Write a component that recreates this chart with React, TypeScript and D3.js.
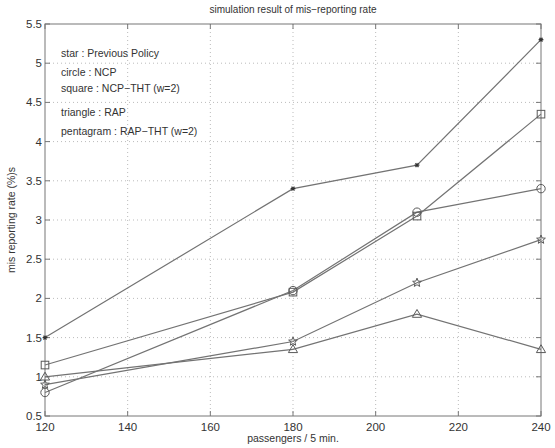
import React from 'react';
import * as d3 from 'd3';

const passengers = [120, 180, 210, 240];
const previousPolicy = [1.5, 3.4, 3.7, 5.3];
const ncp = [0.8, 2.1, 3.1, 3.4];
const ncpTht = [1.15, 2.08, 3.05, 4.35];
const rap = [1.0, 1.35, 1.8, 1.35];
const rapTht = [0.9, 1.45, 2.2, 2.75];

const xTicks = [120, 140, 160, 180, 200, 220, 240];
const yTicks = [0.5, 1, 1.5, 2, 2.5, 3, 3.5, 4, 4.5, 5, 5.5];
const legendLines = [
  'star : Previous Policy',
  'circle : NCP',
  'square : NCP\u2212THT (w=2)',
  'triangle : RAP',
  'pentagram : RAP\u2212THT (w=2)'
];

const W = 555,
  H = 448;
const margin = { top: 24, right: 14, bottom: 32, left: 45 };
const lineColor = '#737373';
const font = 'Liberation Sans, Arial, sans-serif';

function Marker({ kind, x, y }) {
  const s = { fill: 'none', stroke: '#5a5a5a', strokeWidth: 1 };
  if (kind === 'star') {
    const r = 2.4;
    return (
      <g {...s} stroke="#333" strokeWidth={1.3}>
        <line x1={x - r} y1={y} x2={x + r} y2={y} />
        <line x1={x - r * 0.6} y1={y - r * 0.8} x2={x + r * 0.6} y2={y + r * 0.8} />
        <line x1={x - r * 0.6} y1={y + r * 0.8} x2={x + r * 0.6} y2={y - r * 0.8} />
      </g>
    );
  }
  if (kind === 'circle') return <circle cx={x} cy={y} r={4.2} {...s} />;
  if (kind === 'square') return <rect x={x - 3.8} y={y - 3.8} width={7.6} height={7.6} {...s} />;
  if (kind === 'triangle') {
    const r = 4.6;
    return <path d={`M${x},${y - r}L${x + r},${y + r * 0.7}L${x - r},${y + r * 0.7}Z`} {...s} />;
  }
  const pts = d3.range(10).map(i => {
    const a = (i * Math.PI) / 5 - Math.PI / 2;
    const rr = i % 2 === 0 ? 4.6 : 2;
    return [x + rr * Math.cos(a), y + rr * Math.sin(a)];
  });
  return <path d={'M' + pts.map(p => p.join(',')).join('L') + 'Z'} {...s} />;
}

export default function App() {
  const xScale = d3.scaleLinear().domain([120, 240]).range([margin.left, W - margin.right]);
  const yScale = d3.scaleLinear().domain([0.5, 5.5]).range([H - margin.bottom, margin.top]);
  const line = d3
    .line<number>()
    .x((d, i) => xScale(passengers[i]))
    .y(d => yScale(d));

  const series = [
    { values: previousPolicy, kind: 'star' },
    { values: ncp, kind: 'circle' },
    { values: ncpTht, kind: 'square' },
    { values: rap, kind: 'triangle' },
    { values: rapTht, kind: 'pentagram' }
  ];
  const legendY = [53, 72, 88, 112, 131];
  const x0 = margin.left,
    x1 = W - margin.right,
    y0 = H - margin.bottom,
    y1 = margin.top;

  return (
    <svg width={W} height={H} style={{ position: 'absolute', left: 0, top: 0, background: '#fff' }} fontFamily={font}>
      {/* grid */}
      {xTicks.slice(1, -1).map(t => (
        <line key={'gx' + t} x1={xScale(t)} x2={xScale(t)} y1={y1} y2={y0} stroke="#bbb" strokeWidth={1} strokeDasharray="1,3" />
      ))}
      {yTicks.slice(1, -1).map(t => (
        <line key={'gy' + t} x1={x0} x2={x1} y1={yScale(t)} y2={yScale(t)} stroke="#bbb" strokeWidth={1} strokeDasharray="1,3" />
      ))}
      {/* ticks */}
      {xTicks.map(t => (
        <g key={'tx' + t} stroke="#777">
          <line x1={xScale(t)} x2={xScale(t)} y1={y0} y2={y0 - 5} />
          <line x1={xScale(t)} x2={xScale(t)} y1={y1} y2={y1 + 5} />
        </g>
      ))}
      {yTicks.map(t => (
        <g key={'ty' + t} stroke="#777">
          <line x1={x0} x2={x0 + 5} y1={yScale(t)} y2={yScale(t)} />
          <line x1={x1} x2={x1 - 5} y1={yScale(t)} y2={yScale(t)} />
        </g>
      ))}
      <rect x={x0} y={y1} width={x1 - x0} height={y0 - y1} fill="none" stroke="#777" strokeWidth={1} />
      {/* tick labels */}
      {xTicks.map(t => (
        <text key={'lx' + t} x={xScale(t)} y={y0 + 15} textAnchor="middle" fontSize={11.5} fill="#333">
          {t}
        </text>
      ))}
      {yTicks.map(t => (
        <text key={'ly' + t} x={x0 - 3} y={yScale(t) + 4} textAnchor="end" fontSize={11.5} fill="#333">
          {t}
        </text>
      ))}
      {/* series */}
      {series.map(s => (
        <g key={s.kind}>
          <path d={line(s.values) || ''} fill="none" stroke={lineColor} strokeWidth={1.2} />
          {s.values.map((v, i) => (
            <Marker key={i} kind={s.kind} x={xScale(passengers[i])} y={yScale(v)} />
          ))}
        </g>
      ))}
      {/* legend text */}
      {legendLines.map((l, i) => (
        <text key={l} x={61} y={legendY[i] + 4} fontSize={10.5} fill="#333">
          {l}
        </text>
      ))}
      <text x={(x0 + x1) / 2} y={13} textAnchor="middle" fontSize={10} fill="#333">
        simulation result of mis{'\u2212'}reporting rate
      </text>
      <text x={(x0 + x1) / 2} y={442} textAnchor="middle" fontSize={10.5} fill="#333">
        passengers / 5 min.
      </text>
      <text transform={`translate(15,${(y0 + y1) / 2}) rotate(-90)`} textAnchor="middle" fontSize={10.5} fill="#333">
        mis reporting rate (%)s
      </text>
    </svg>
  );
}
